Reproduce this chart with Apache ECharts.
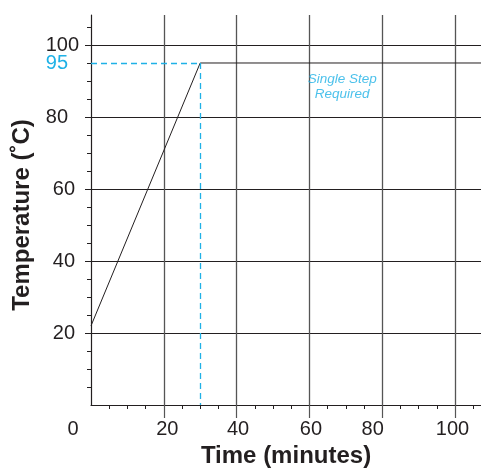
<!DOCTYPE html>
<html><head><meta charset="utf-8">
<script src="https://cdn.jsdelivr.net/npm/echarts@6/dist/echarts.min.js"></script>
<style>html,body{margin:0;padding:0;background:#fff}#c{width:481px;height:468px}</style>
</head><body><div id="c"></div>
<script>
// ---- data ----
const profileTime = [0, 30, 108];
const profileTemp = [22, 95, 95];
const setpointTemp = 95;
const rampEndTime = 30;
const xTickLabels = [0, 20, 40, 60, 80, 100];
const yTickLabels = [20, 40, 60, 80, 100];
const majorTicks = [20, 40, 60, 80, 100];
const noteText = 'Single Step\nRequired';
const notePos = [69, 88.5];

const FONT = 'Liberation Sans, Arial, Helvetica, sans-serif';
const CYAN = '#1fb1e6';
const INK = '#231f20';

// per-label nudges (style only) to mimic the reference's hand-placed labels
const xPad = {0: [0, 36, 0, 0], 20: [0, 0, 0, 7], 40: [0, 0, 0, 3], 60: [0, 0, 0, 3], 80: [0, 19, 0, 0], 100: [0, 5, 0, 0]};
const yPad = {20: [0, 4, 0, 0], 40: [0, 4, 0, 0], 60: [0, 4, 0, 0], 80: [0, 11, 0, 0], 100: [0, 0, 0, 0]};
const xRich = {}, yRich = {};
xTickLabels.forEach(v => { xRich['x' + v] = {fontFamily: FONT, fontSize: 20, color: INK, padding: xPad[v]}; });
yTickLabels.forEach(v => { yRich['y' + v] = {fontFamily: FONT, fontSize: 20, color: INK, padding: yPad[v]}; });

const chart = echarts.init(document.getElementById('c'), null, {renderer: 'canvas'});
chart.setOption({
  animation: false,
  grid: {left: 91, right: 0, top: 15, bottom: 63, containLabel: false, outerBoundsMode: 'none'},
  xAxis: {
    type: 'value', min: 0, max: 107.14, interval: 20,
    name: 'Time (minutes)', nameLocation: 'middle', nameGap: 37,
    nameTextStyle: {fontFamily: FONT, fontWeight: 'bold', fontSize: 24, color: INK},
    axisLine: {show: true, onZero: false, lineStyle: {color: INK, width: 1.2}},
    axisTick: {show: true, customValues: majorTicks, length: 13, lineStyle: {color: '#555', width: 1.2}},
    minorTick: {show: true, splitNumber: 4, length: 4, lineStyle: {color: INK, width: 1}},
    axisLabel: {
      customValues: xTickLabels, margin: 14, hideOverlap: false,
      fontFamily: FONT, fontSize: 20, color: INK,
      formatter: v => '{x' + v + '|' + v + '}',
      rich: xRich
    },
    splitLine: {show: true, lineStyle: {color: '#555', width: 1.3}}
  },
  yAxis: {
    type: 'value', min: 0, max: 108.33, interval: 20,
    name: 'Temperature (˚C)', nameLocation: 'middle', nameGap: 50,
    nameTextStyle: {fontFamily: FONT, fontWeight: 'bold', fontSize: 24, color: INK, padding: [0, 10, 0, 0]},
    axisLine: {show: true, onZero: false, lineStyle: {color: INK, width: 1.2}},
    axisTick: {show: true, customValues: majorTicks, length: 6, lineStyle: {color: INK, width: 1}},
    minorTick: {show: true, splitNumber: 4, length: 4, lineStyle: {color: INK, width: 1}},
    axisLabel: {
      customValues: yTickLabels, margin: 12, hideOverlap: false,
      fontFamily: FONT, fontSize: 20, color: INK,
      formatter: v => '{y' + v + '|' + v + '}',
      rich: yRich
    },
    splitLine: {show: true, lineStyle: {color: INK, width: 1}}
  },
  series: [{
    type: 'line',
    data: profileTime.map((t, i) => [t, profileTemp[i]]),
    symbol: 'none',
    lineStyle: {color: INK, width: 1},
    z: 3,
    markLine: {
      silent: true, symbol: 'none', z: 10,
      lineStyle: {color: CYAN, type: [6, 4], width: 1.3, opacity: 1},
      data: [
        [{coord: [0, setpointTemp],
          lineStyle: {color: CYAN},
          label: {show: true, position: 'start', distance: 23, formatter: String(setpointTemp),
                  fontFamily: FONT, fontSize: 20, color: CYAN}},
         {coord: [rampEndTime, setpointTemp]}],
        [{coord: [rampEndTime, setpointTemp], lineStyle: {color: CYAN}, label: {show: false}},
         {coord: [rampEndTime, 0]}]
      ]
    }
  }, {
    type: 'scatter',
    data: [notePos],
    symbolSize: 1,
    itemStyle: {color: 'rgba(0,0,0,0)'},
    silent: true,
    z: 6,
    label: {
      show: true, position: 'inside', formatter: noteText, fontFamily: FONT, fontStyle: 'italic',
      fontSize: 13.5, lineHeight: 15, color: CYAN, align: 'center', verticalAlign: 'middle'
    }
  }]
});
</script></body></html>
